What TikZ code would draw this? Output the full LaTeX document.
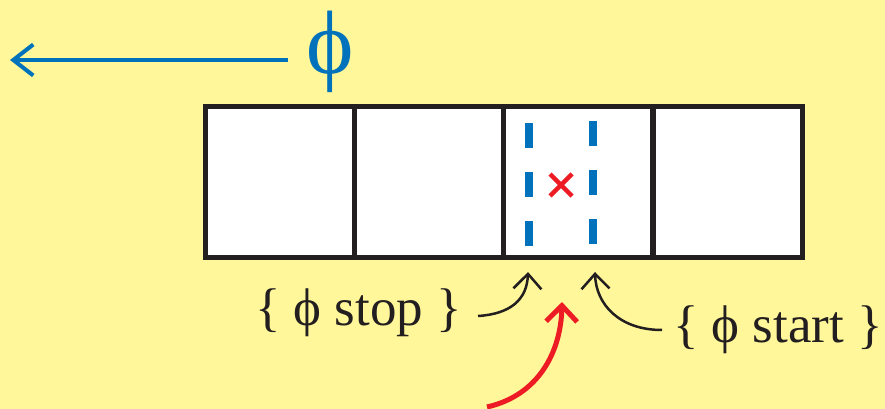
\documentclass[tikz,border=0pt]{standalone}
\usepackage{fontspec}
\setmainfont{Liberation Serif}
\newfontfamily\tms{Liberation Serif}
\usetikzlibrary{arrows.meta}
\definecolor{bg}{HTML}{FFF799}
\definecolor{myblue}{HTML}{0072BC}
\definecolor{myred}{HTML}{ED1C24}
\definecolor{myblack}{HTML}{231F20}
\tikzset{
  cell/.style={draw=myblack, line width=5pt, fill=white, minimum width=149pt, minimum height=150pt, inner sep=0pt, outer sep=0pt},
  dashline/.style={draw=myblue, line width=8pt},
  lbl/.style={inner sep=0pt, outer sep=0pt, font=\tms\fontsize{53}{53}\selectfont, text=myblack},
  blk/.style={draw=myblack, line width=2.5pt, -{Straight Barb[length=15pt, width=28pt, line width=2.5pt]}},
  redarr/.style={draw=myred, line width=5pt, -{Straight Barb[length=16pt, width=31pt, line width=5pt]}},
  bluearr/.style={draw=myblue, line width=4pt, -{Straight Barb[length=20pt, width=31pt, line width=4pt]}}
}
\begin{document}
\begin{tikzpicture}[x=1pt, y=-1pt]
\fill[bg] (0,0) rectangle (885,409);
\useasboundingbox (0,0) rectangle (885,409);
% cells
\node[cell] (c1) at (279.5,182) {};
\node[cell] (c2) at (428.5,182) {};
\node[cell] (c3) at (578,182) {};
\node[cell] (c4) at (728,182) {};
% dashed lines
\foreach \y in {123,172,221} \draw[dashline] (529,\y) -- (529,\y+25);
\foreach \y in {121,170,219} \draw[dashline] (593,\y) -- (593,\y+25);
% red x
\coordinate (x) at (561,185);
\draw[myred, line width=4.5pt] (550,174) -- (572,196) (550,196) -- (572,174);
% phi and blue arrow
\node[inner sep=0pt, text=myblue, font=\tms\fontsize{90}{90}\selectfont] (phi) at (330,52) {ϕ};
\coordinate (bend) at (10,60);
\draw[bluearr] (288,60) -- (bend);
% labels
\node[lbl, anchor=base west] (stop) at (255,325) {\{ ϕ stop \}};
\node[lbl, anchor=base west] (start) at (673,342) {\{ ϕ start \}};
\coordinate (tipL) at (528,272);
\coordinate (tipR) at (595,272);
\coordinate (tipRed) at (562,302);
\coordinate (redStart) at (487,407);
\coordinate (sL) at (478,316);
\coordinate (sR) at (662,330);
\draw[blk] (sL) .. controls (510,314) and (527,300) .. (tipL);
\draw[blk] (sR) .. controls (620,330) and (596,305) .. (tipR);
\draw[redarr] (redStart) .. controls (540,395) and (561,350) .. (tipRed);
\end{tikzpicture}
\end{document}
